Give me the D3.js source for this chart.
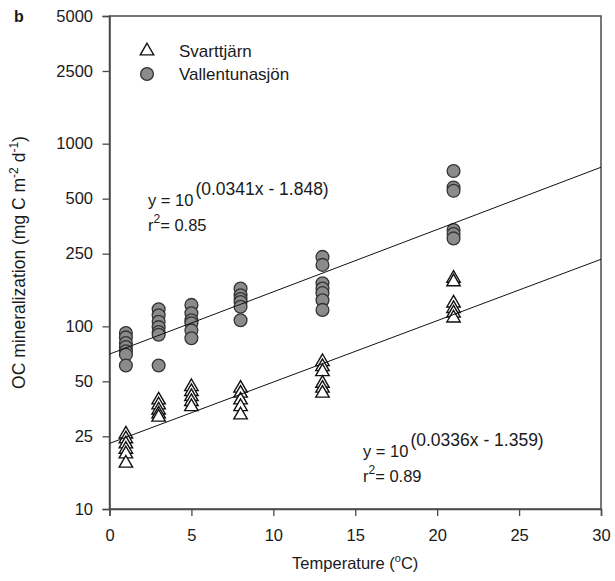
<!DOCTYPE html>
<html>
<head>
<meta charset="utf-8">
<script src="https://cdn.jsdelivr.net/npm/d3@7"></script>
<style>
  body { margin: 0; background: #fff; }
  text { font-family: "Liberation Sans", Arial, sans-serif; fill: #1a1a1a; }
</style>
</head>
<body>
<div id="chart"></div>
<script>
// temperatures (°C) where the cores were incubated
const temps = [1, 3, 5, 8, 13, 21];

// OC mineralization (mg C m-2 d-1), one list per temperature
const svarttjarn = [
  [25.7, 24.2, 22.7, 21.2, 20.0, 17.8],
  [39.5, 37.1, 34.8, 33.1, 31.8],
  [46.7, 43.9, 41.2, 38.7, 36.3],
  [45.8, 43.0, 39.5, 36.3, 32.7],
  [64.0, 60.1, 56.4, 48.7, 45.8, 43.0],
  [183, 175, 134, 125, 118, 111]
];
const vallentuna = [
  [92, 87, 81, 77, 73, 70, 61],
  [124, 115, 106, 99, 93, 90, 61],
  [131, 118, 108, 104, 95, 86],
  [161, 148, 141, 136, 128, 108],
  [240, 217, 172, 161, 152, 139, 123],
  [708, 576, 552, 337, 320, 303]
];

// fitted lines  log10(y) = a*x + b
const fits = [
  { name: "Vallentunasjön", a: 0.0341, b: 1.848, r2: "0.85", eq: "(0.0341x - 1.848)" },
  { name: "Svarttjärn", a: 0.0336, b: 1.359, r2: "0.89", eq: "(0.0336x - 1.359)" }
];

const xTicks = [0, 5, 10, 15, 20, 25, 30];
const yTicks = [10, 25, 50, 100, 250, 500, 1000, 2500, 5000];

const W = 615, H = 581;
const m = { left: 109.5, right: 14, top: 16, bottom: 72 };

const svg = d3.select("#chart").append("svg")
  .attr("width", W).attr("height", H);

const x = d3.scaleLinear().domain([0, 30]).range([m.left, W - m.right]);
const y = d3.scaleLog().domain([10, 5000]).range([H - m.bottom, m.top]);

function label(x0, y0, anchor, size) {
  return svg.append("text")
    .attr("x", x0).attr("y", y0)
    .attr("text-anchor", anchor)
    .attr("font-size", size + "px");
}

// frame
svg.append("rect")
  .attr("x", m.left).attr("y", m.top)
  .attr("width", W - m.right - m.left)
  .attr("height", H - m.bottom - m.top)
  .attr("fill", "none")
  .attr("stroke", "#4a4a4a")
  .attr("stroke-width", 1.5);

const xAxis = svg.append("g")
  .attr("transform", `translate(0,${H - m.bottom})`)
  .call(d3.axisBottom(x).tickValues(xTicks).tickSize(7).tickPadding(13).tickFormat(d3.format("d")));

const yAxis = svg.append("g")
  .attr("transform", `translate(${m.left},0)`)
  .call(d3.axisLeft(y).tickValues(yTicks).tickSize(7).tickPadding(9.5).tickFormat(d3.format("d")));

[xAxis, yAxis].forEach(g => {
  g.select(".domain").attr("stroke", "#4a4a4a").attr("stroke-width", 1.5);
  g.selectAll(".tick line").attr("stroke", "#4a4a4a").attr("stroke-width", 1.3);
  g.selectAll(".tick text")
    .attr("font-family", "Liberation Sans, Arial, sans-serif")
    .attr("font-size", "16.5px")
    .attr("fill", "#1a1a1a");
});

// points
const triPath = d3.symbol().type(d3.symbolTriangle).size(78)();

temps.forEach((t, i) => {
  svg.append("g").selectAll("circle")
    .data(vallentuna[i])
    .enter().append("circle")
    .attr("cx", x(t))
    .attr("cy", d => y(d))
    .attr("r", 6.4)
    .attr("fill", "#8a8b8d")
    .attr("stroke", "#333")
    .attr("stroke-width", 1.3);

  svg.append("g").selectAll("path")
    .data(svarttjarn[i])
    .enter().append("path")
    .attr("d", triPath)
    .attr("transform", d => `translate(${x(t)},${y(d)})`)
    .attr("fill", "#fff")
    .attr("stroke", "#111")
    .attr("stroke-width", 1.4);
});

// regression lines
const line = d3.line().x(d => x(d.t)).y(d => y(d.v));
fits.forEach(f => {
  svg.append("path")
    .datum([0, 30].map(t => ({ t, v: Math.pow(10, f.a * t + f.b) })))
    .attr("d", line)
    .attr("fill", "none")
    .attr("stroke", "#111")
    .attr("stroke-width", 1);
});

// equations
function equation(f, x0, y0) {
  const t = label(x0, y0, "start", 16.5);
  t.append("tspan").text("y = 10");
  t.append("tspan").attr("dx", 2).attr("dy", -11).attr("font-size", "17.5px").text(f.eq);
  const r = label(x0, y0 + 25, "start", 16.5);
  r.append("tspan").text("r");
  r.append("tspan").attr("dy", -8).attr("font-size", "12px").text("2");
  r.append("tspan").attr("dy", 8).text("= " + f.r2);
}
equation(fits[0], 148, 206);
equation(fits[1], 363, 457);

// legend
const legendY = [51, 74];
svg.append("path").attr("d", triPath)
  .attr("transform", `translate(147,${legendY[0]})`)
  .attr("fill", "#fff").attr("stroke", "#111").attr("stroke-width", 1.4);
svg.append("circle").attr("cx", 147).attr("cy", legendY[1]).attr("r", 6.4)
  .attr("fill", "#8a8b8d").attr("stroke", "#333").attr("stroke-width", 1.3);
label(179, legendY[0] + 6, "start", 17).text("Svarttjärn");
label(179, legendY[1] + 6, "start", 17).text("Vallentunasjön");

// panel letter
svg.append("text").attr("x", 14).attr("y", 22)
  .attr("font-size", "16px").attr("font-weight", "bold").text("b");

// axis titles
const xt = label((m.left + W - m.right) / 2, 569, "middle", 16.5);
xt.append("tspan").text("Temperature (");
xt.append("tspan").attr("dy", -7).attr("font-size", "11px").text("o");
xt.append("tspan").attr("dy", 7).text("C)");

const yt = svg.append("text")
  .attr("transform", `translate(25,${(m.top + H - m.bottom) / 2}) rotate(-90)`)
  .attr("text-anchor", "middle")
  .attr("font-size", "17.5px");
yt.append("tspan").text("OC mineralization (mg C m");
yt.append("tspan").attr("dy", -7).attr("font-size", "12px").text("-2");
yt.append("tspan").attr("dy", 7).text(" d");
yt.append("tspan").attr("dy", -7).attr("font-size", "12px").text("-1");
yt.append("tspan").attr("dy", 7).text(")");
</script>
</body>
</html>
